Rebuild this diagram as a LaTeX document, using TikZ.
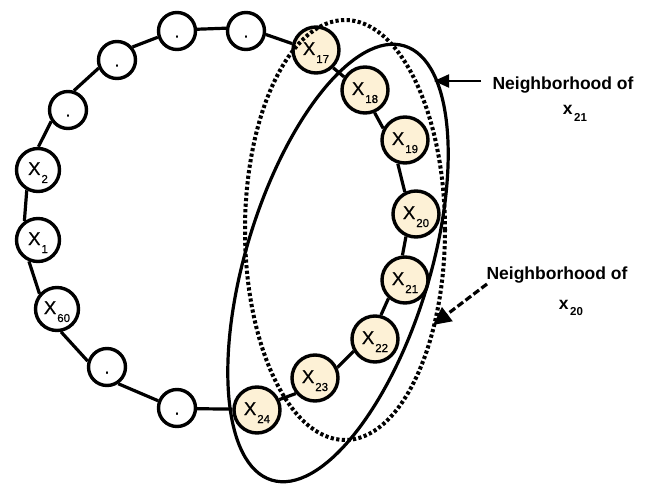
\documentclass[tikz,border=0pt]{standalone}
\usepackage{fontspec}
\setmainfont{Liberation Sans}
\newfontfamily\nodefont{Liberation Sans}[FakeBold=0.6]
\usetikzlibrary{arrows.meta}
\definecolor{cream}{RGB}{253,241,214}
\newcommand{\xlab}[1]{X\kern1pt\raisebox{-8pt}{\fontsize{11.5}{11.5}\selectfont #1}}
\newcommand{\nlab}[1]{x\kern1.5pt\raisebox{-6.5pt}{\fontsize{11.5}{11.5}\selectfont\bfseries #1}}
\begin{document}
\begin{tikzpicture}[x=1pt,y=-1pt,
  link/.style={line width=3.2pt},
  dotnode/.style={circle,draw,line width=3.4pt,fill=white,minimum size=37pt,inner sep=0pt,
    font=\nodefont\fontsize{18}{18}\selectfont,text height=13pt,text depth=0pt},
  xnode/.style={circle,draw,line width=3.4pt,fill=white,minimum size=43pt,inner sep=0pt,
    font=\nodefont\fontsize{18.5}{18.5}\selectfont,text height=13.3pt,text depth=3.3pt},
  hnode/.style={xnode,fill=cream,minimum size=46pt},
  hood/.style={line width=3.2pt},
  dotted hood/.style={line width=4pt,dash pattern=on 3.2pt off 2.4pt},
  lab/.style={anchor=base,inner sep=0pt,font=\fontsize{17.5}{17.5}\selectfont\bfseries}
]
\useasboundingbox (0,0) rectangle (648,484);

% ring nodes
\node[dotnode] (d1) at (246,31) {.};
\node[dotnode] (d2) at (177,31) {.};
\node[dotnode] (d3) at (117,60) {.};
\node[dotnode] (d4) at (68,110) {.};
\node[xnode] (x2) at (38,170) {\xlab{2}};
\node[xnode] (x1) at (38,240) {\xlab{1}};
\node[xnode] (x60) at (57,309) {\xlab{60}};
\node[dotnode] (d5) at (107,367) {.};
\node[dotnode] (d6) at (177,408) {.};
\node[hnode] (x24) at (257,410) {\xlab{24}};
\node[hnode] (x23) at (315,378) {\xlab{23}};
\node[hnode] (x22) at (375,339) {\xlab{22}};
\node[hnode] (x21) at (405,280) {\xlab{21}};
\node[hnode] (x20) at (416,214) {\xlab{20}};
\node[hnode] (x19) at (405,140) {\xlab{19}};
\node[hnode] (x18) at (365,90) {\xlab{18}};
\node[hnode] (x17) at (316,50) {\xlab{17}};

% ring connectors
\draw[link] (x17.-46.8) -- (x18.148.9);
\draw[link] (x18.-67.1) -- (x19.152.7);
\draw[link] (x19.-107.3) -- (x20.117.4);
\draw[link] (x20.-114.6) -- (x21.96.8);
\draw[link] (x21.-132.6) -- (x22.76.6);
\draw[link] (x22.-150.6) -- (x23.25.2);
\draw[link] (x23.-141.4) -- (x24.25.7);
\draw[link] (x24.178.5) -- (d6.-2.4);
\draw[link] (d6.159) -- (d5.-56);
\draw[link] (d5.163.2) -- (x60.-80.4);
\draw[link] (x60.139.4) -- (x1.-113.5);
\draw[link] (x1.126.9) -- (x2.-119.9);
\draw[link] (x2.89.1) -- (d4.-146);
\draw[link] (d4.73.2) -- (d3.-156.5);
\draw[link] (d3.40.3) -- (d2.-162.1);
\draw[link] (d2.5.5) -- (d1.172.1);
\draw[link] (d1.-10.3) -- (x17.165.6);

% neighborhoods
\draw[dotted hood] (345,230) ellipse [x radius=100pt, y radius=210pt];
\draw[hood, rotate around={-17:(338,263)}] (338,263) ellipse [x radius=92pt, y radius=227pt];

% labels
\node[lab] (n21) at (563,90) {Neighborhood of};
\node[lab] (n21x) at (575,115) {\nlab{21}};
\node[lab] (n20) at (557,279) {Neighborhood of};
\node[lab] (n20x) at (571,309) {\nlab{20}};

% arrows
\coordinate (s21) at (481,81);
\coordinate (t21) at (434,81);
\draw[line width=2pt,-{Triangle[length=15pt,width=13pt]}] (s21) -- (t21);
\coordinate (s20) at (487,284);
\coordinate (t20) at (433,325);
\draw[line width=3.2pt,dash pattern=on 7pt off 3pt,-{Triangle[length=18pt,width=17pt]}] (s20) -- (t20);
\end{tikzpicture}
\end{document}
